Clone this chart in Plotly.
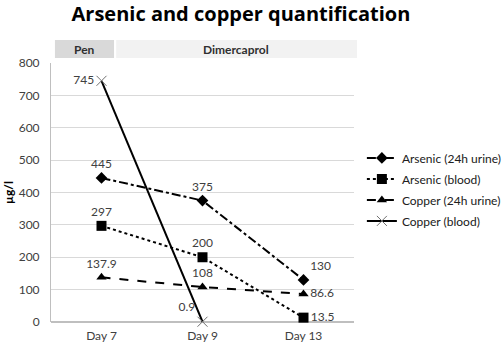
import plotly.graph_objects as go

days = ["Day 7", "Day 9", "Day 13"]
arsenic_urine = [445, 375, 130]
arsenic_blood = [297, 200, 13.5]
copper_urine = [137.9, 108, 86.6]
copper_blood_days = ["Day 7", "Day 9"]
copper_blood = [745, 0.9]
y_ticks = [0, 100, 200, 300, 400, 500, 600, 700, 800]

FONT = "Lato"
TFONT = "Open Sans"
lab_font = dict(family=FONT, size=12, color="#404040")

fig = go.Figure()
fig.add_trace(go.Scatter(
    x=days, y=arsenic_urine, name="Arsenic (24h urine)", mode="lines+markers+text",
    line=dict(color="black", width=2, dash="dashdot"),
    marker=dict(symbol="diamond", size=9, color="black"),
    text=["445", "375", "130"], textposition=["top center", "top center", "top right"],
    textfont=lab_font, legendgroup="a", cliponaxis=False))
fig.add_trace(go.Scatter(
    x=days, y=arsenic_blood, name="Arsenic (blood)", mode="lines+markers+text",
    line=dict(color="black", width=2, dash="dot"),
    marker=dict(symbol="square", size=10, color="black"),
    text=["297", "200", "13.5"], textposition=["top center", "top center", "middle right"],
    textfont=lab_font, legendgroup="b", cliponaxis=False))
fig.add_trace(go.Scatter(
    x=days, y=copper_urine, name="Copper (24h urine)", mode="lines+markers+text",
    line=dict(color="black", width=2, dash="dash"),
    marker=dict(symbol="triangle-up", size=9, color="black"),
    text=["137.9", "108", "86.6"], textposition=["top center", "top center", "middle right"],
    textfont=lab_font, legendgroup="c", cliponaxis=False))
fig.add_trace(go.Scatter(
    x=copper_blood_days, y=copper_blood, name="Copper (blood)", mode="lines+markers+text",
    line=dict(color="black", width=2),
    marker=dict(symbol="x-thin", size=10, line=dict(color="#707070", width=1)),
    text=["745", "0.9"], textposition=["middle left", "top left"],
    textfont=lab_font, legendgroup="d", cliponaxis=False))

# header bands
fig.add_shape(type="rect", xref="paper", yref="paper", x0=0.013, x1=0.208, y0=1.019, y1=1.089,
              fillcolor="#d9d9d9", line=dict(width=0), layer="below")
fig.add_shape(type="rect", xref="paper", yref="paper", x0=0.215, x1=1.01, y0=1.019, y1=1.089,
              fillcolor="#f2f2f2", line=dict(width=0), layer="below")
fig.add_annotation(text="<b>Pen</b>", xref="paper", yref="paper", x=0.11, y=1.054,
                   xanchor="center", yanchor="middle",
                   showarrow=False, font=dict(family=FONT, size=12, color="#303030"))
fig.add_annotation(text="<b>Dimercaprol</b>", xref="paper", yref="paper", x=0.61, y=1.054,
                   xanchor="center", yanchor="middle",
                   showarrow=False, font=dict(family=FONT, size=12, color="#303030"))

fig.update_layout(
    width=502, height=347,
    margin=dict(l=51, r=148, t=63, b=25, autoexpand=False),
    paper_bgcolor="white", plot_bgcolor="white",
    title=dict(text="<b>Arsenic and copper quantification</b>", x=0.48, xanchor="center",
               y=0.98, yanchor="top", font=dict(family=TFONT, size=20, color="black")),
    showlegend=True,
    legend=dict(x=1.026, xanchor="left", y=0.512, yanchor="middle",
                font=dict(family=FONT, size=12, color="#202020"),
                traceorder="grouped", tracegroupgap=2, itemwidth=30),
    xaxis=dict(categoryorder="array", categoryarray=days, range=[-0.5, 2.5], showgrid=False,
               showline=False, ticks="", ticklabelstandoff=5,
               tickfont=dict(family=FONT, size=12, color="#404040")),
    yaxis=dict(range=[0, 800], tickvals=y_ticks, showgrid=True, gridcolor="#d9d9d9",
               gridwidth=1, zeroline=True, zerolinecolor="#bfbfbf", showline=True,
               linecolor="#bfbfbf", ticks="", ticklabelstandoff=8,
               tickfont=dict(family=FONT, size=12, color="#404040"),
               title=dict(text="<b>µg/l</b>", font=dict(family=FONT, size=12, color="black"),
                          standoff=2)),
)

fig.write_html("out.html", config={"displayModeBar": False},
               post_script="document.body.style.margin='0';document.body.style.padding='0';")
